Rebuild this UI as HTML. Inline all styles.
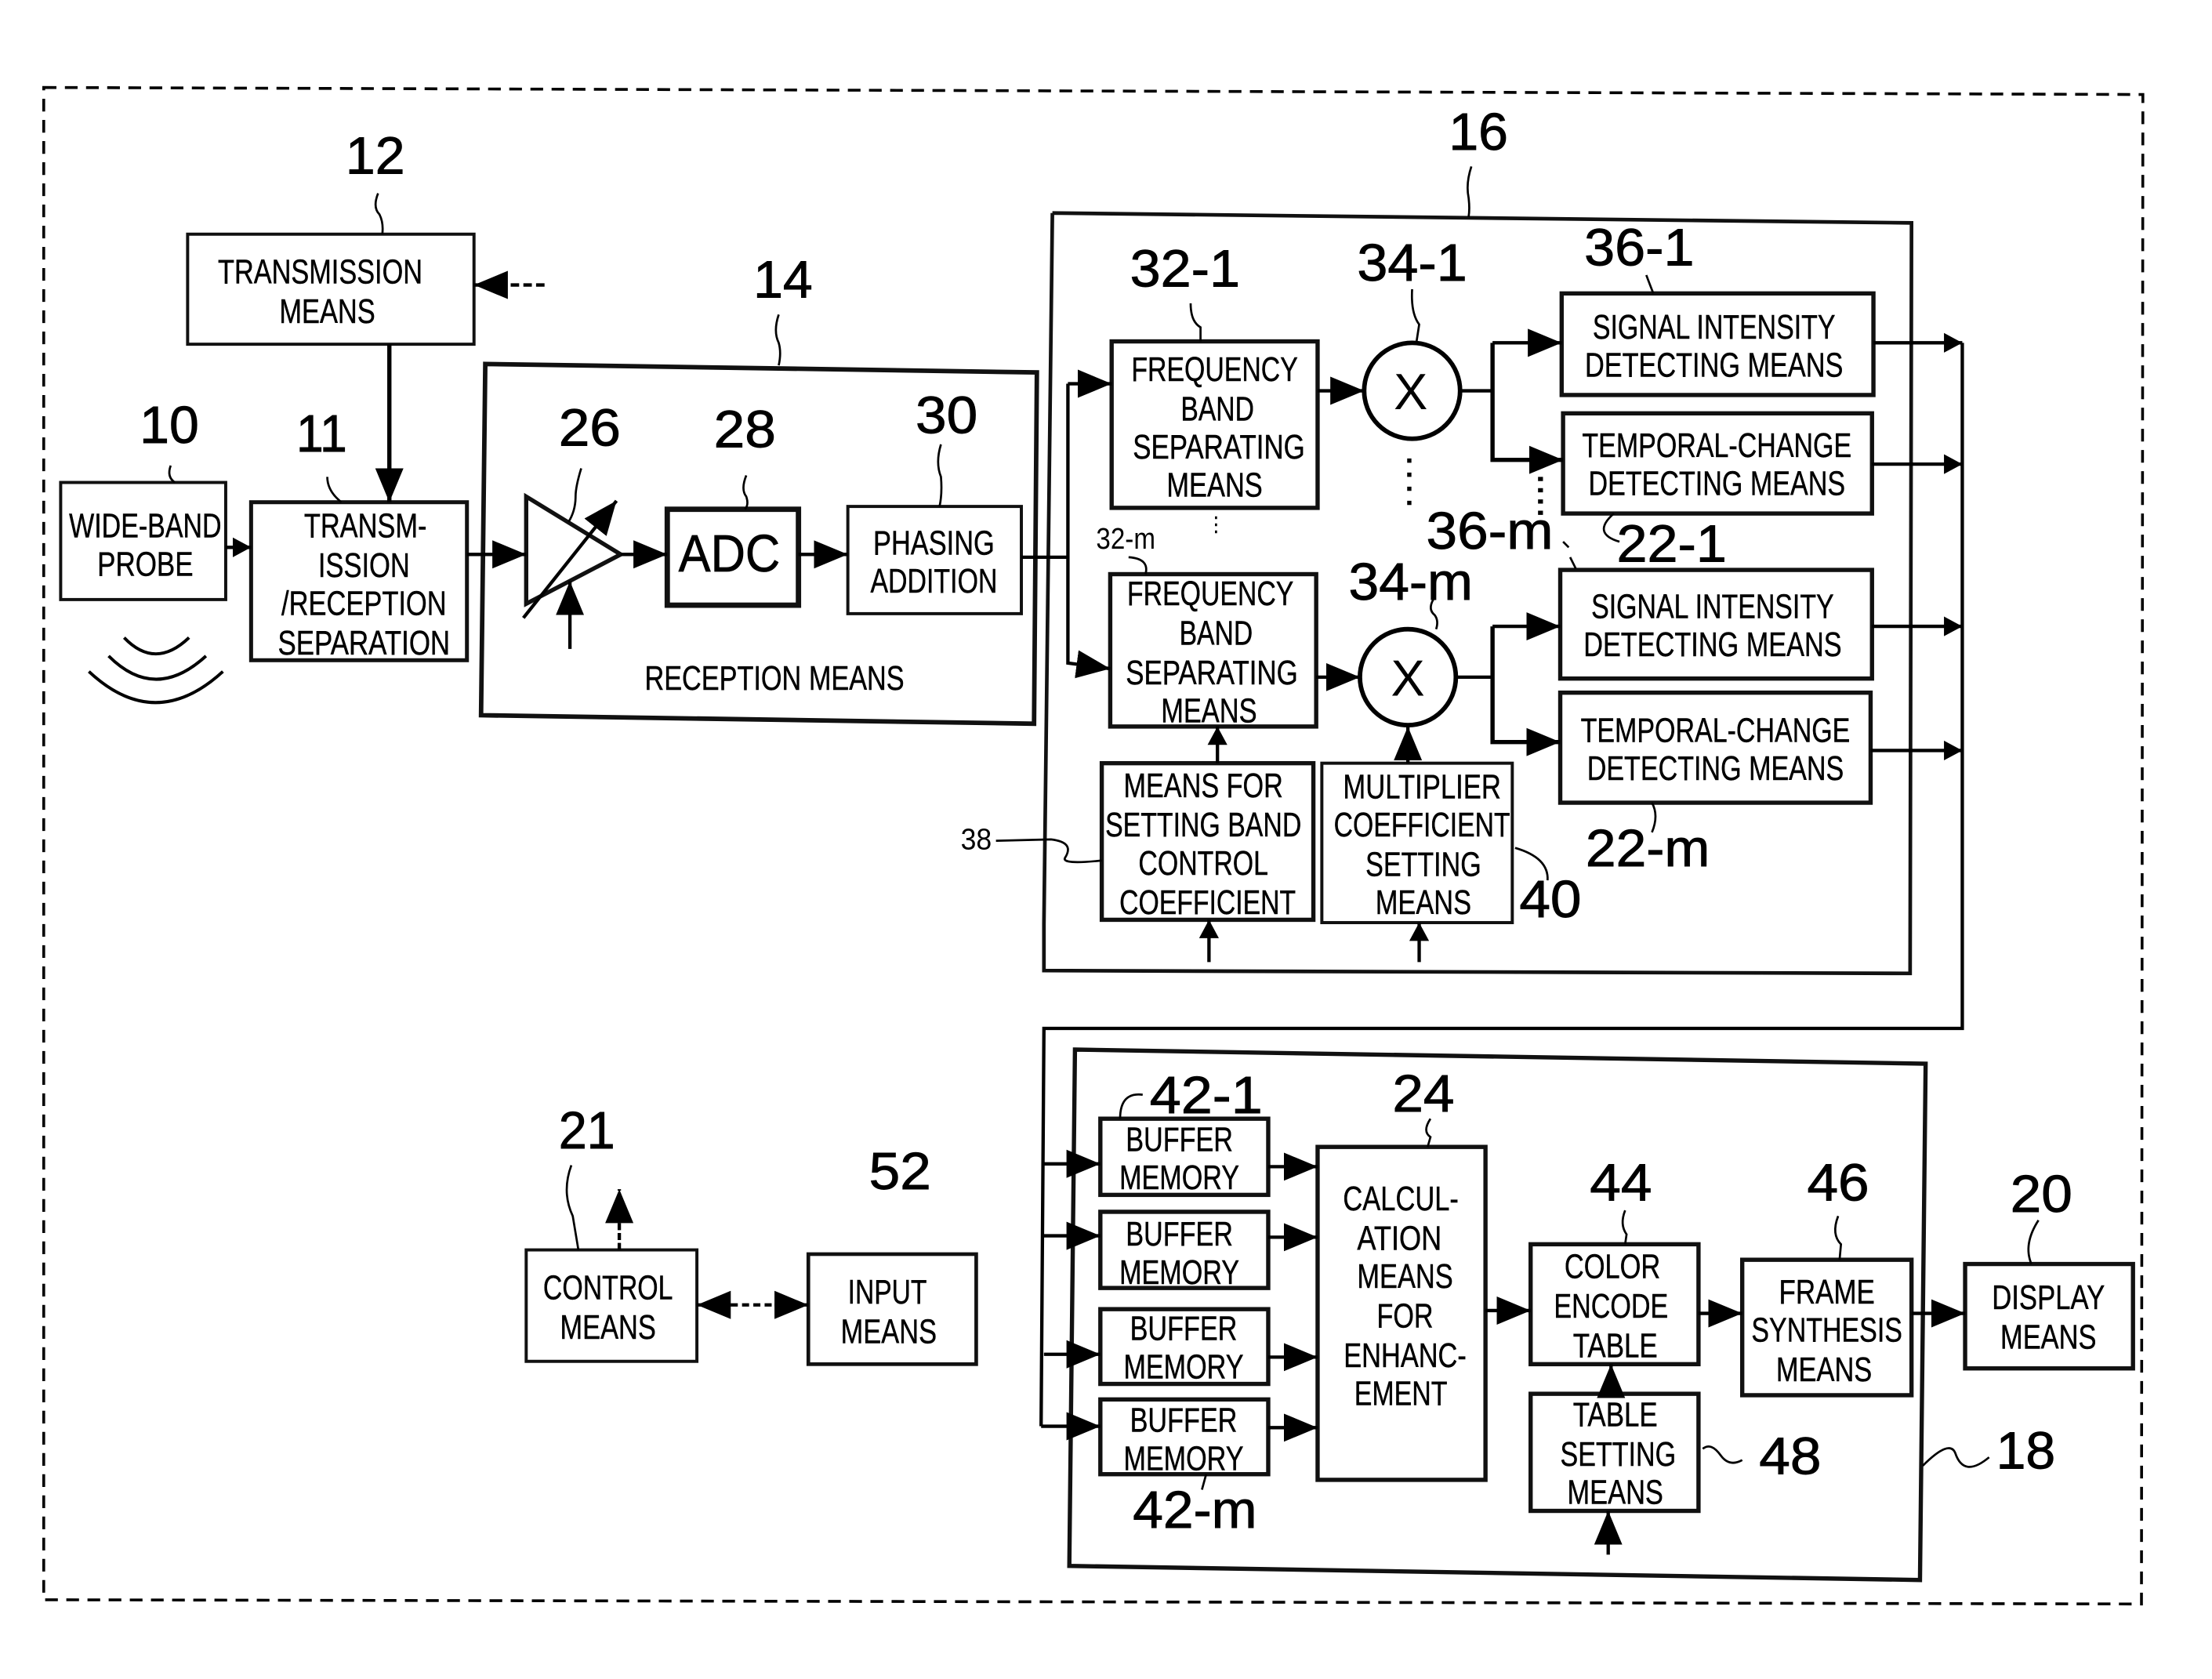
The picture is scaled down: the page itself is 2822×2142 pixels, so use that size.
<!DOCTYPE html>
<html><head><meta charset="utf-8"><style>
html,body{margin:0;padding:0;background:#fff}
svg{display:block}
text{font-family:"Liberation Sans",sans-serif;fill:#000;text-anchor:middle}
.t{font-size:24px;stroke:#000;stroke-width:.25}
.n{font-size:37px;stroke:#000;stroke-width:.5}
.b{fill:none;stroke:#111}
.l{fill:none;stroke:#000;stroke-width:2.4}
.q{fill:none;stroke:#000;stroke-width:1.5}
</style></head><body>
<svg xmlns="http://www.w3.org/2000/svg" width="2822" height="2142" viewBox="0 0 1568 1190.17">
<defs>
<marker id="a" markerUnits="userSpaceOnUse" markerWidth="25" markerHeight="22" refX="24" refY="11" orient="auto"><path d="M0,1 L24,11 L0,21 Z"/></marker>
<marker id="s" markerUnits="userSpaceOnUse" markerWidth="14" markerHeight="16" refX="13" refY="8" orient="auto"><path d="M0,1 L13,8 L0,15 Z"/></marker>
</defs>
<rect width="1568" height="1191" fill="#fff"/>
<path d="M31,62 L1519,67 L1518,1137 L31,1134 Z" fill="none" stroke="#000" stroke-width="2" stroke-dasharray="9 6"/>

<!-- outer containers -->
<path class="b" stroke-width="3.2" d="M344,258 L735,264 L733,513 L341,507 Z"/>
<path class="b" stroke-width="2.6" d="M746,151 L1355,158 L1354,690 L740,688 L740,655 L746,151"/>
<path class="b" stroke-width="3" d="M762,744 L1365,754 L1361,1120 L758,1110 Z"/>

<!-- boxes -->
<g class="b" stroke-width="2.2">
<rect x="133" y="166" width="203" height="78"/>
<rect x="43" y="342" width="117" height="83"/>
<rect x="178" y="356" width="153" height="112" stroke-width="2.8"/>
<rect x="473" y="361" width="93" height="68" stroke-width="3.8"/>
<rect x="601" y="359" width="123" height="76"/>
<rect x="788" y="242" width="146" height="118" stroke-width="3"/>
<rect x="787" y="407" width="146" height="108" stroke-width="3"/>
<rect x="1107" y="208" width="221" height="72" stroke-width="3"/>
<rect x="1108" y="293" width="219" height="71" stroke-width="3"/>
<rect x="1106" y="404" width="221" height="77" stroke-width="3"/>
<rect x="1106" y="491" width="220" height="78" stroke-width="3"/>
<rect x="781" y="541" width="150" height="111" stroke-width="3"/>
<rect x="937" y="541" width="135" height="113"/>
<rect x="780" y="793" width="119" height="54" stroke-width="3"/>
<rect x="780" y="859" width="119" height="54" stroke-width="3"/>
<rect x="780" y="928" width="119" height="53" stroke-width="3"/>
<rect x="780" y="992" width="119" height="53" stroke-width="3"/>
<rect x="934" y="813" width="119" height="236" stroke-width="3"/>
<rect x="1085" y="882" width="119" height="85" stroke-width="3"/>
<rect x="1085" y="988" width="119" height="83" stroke-width="3"/>
<rect x="1235" y="893" width="120" height="96" stroke-width="3"/>
<rect x="1393" y="896" width="119" height="74" stroke-width="3"/>
<rect x="373" y="886" width="121" height="79"/>
<rect x="573" y="889" width="119" height="78" stroke-width="2.6"/>
</g>

<!-- amplifier -->
<path class="b" stroke-width="3" d="M373,352 L440,393 L373,428 Z"/>
<path class="l" stroke-width="3" d="M371,438 L437,355" marker-end="url(#a)"/>
<path class="l" d="M404,460 L404,412" marker-end="url(#a)"/>

<!-- multipliers -->
<circle cx="1001" cy="277" r="34" fill="#fff" stroke="#000" stroke-width="3.2"/>
<circle cx="998" cy="480" r="34" fill="#fff" stroke="#000" stroke-width="3.2"/>

<!-- connectors -->
<g class="l">
<path d="M386,202 L336,202" stroke-dasharray="6 3" marker-end="url(#a)"/>
<path d="M276,244 L276,356" stroke-width="3" marker-end="url(#a)"/>
<path d="M160,388 L178,388" marker-end="url(#s)"/>
<path d="M331,393 L373,393" marker-end="url(#a)"/>
<path d="M440,393 L473,393" marker-end="url(#a)"/>
<path d="M566,393 L601,393" marker-end="url(#a)"/>
<path d="M724,395 L757,395"/>
<path d="M757,272 L757,470 L787,474" marker-end="url(#a)"/>
<path d="M757,272 L788,272" marker-end="url(#a)"/>
<path d="M934,277 L967,277" marker-end="url(#a)"/>
<path d="M933,480 L964,480" marker-end="url(#a)"/>
<path d="M1035,277 L1058,277"/>
<path d="M1058,243 L1107,243" marker-end="url(#a)"/>
<path d="M1058,243 L1058,326 L1108,326" stroke-width="3" marker-end="url(#a)"/>
<path d="M1032,480 L1058,480"/>
<path d="M1058,444 L1106,444" marker-end="url(#a)"/>
<path d="M1058,444 L1058,526 L1106,526" stroke-width="3" marker-end="url(#a)"/>
<path d="M863,541 L863,515" marker-end="url(#s)"/>
<path d="M998,541 L998,515" marker-end="url(#a)"/>
<path d="M857,682 L857,652" marker-end="url(#s)"/>
<path d="M1006,682 L1006,654" marker-end="url(#s)"/>
<path d="M1328,243 L1391,243" marker-end="url(#s)"/>
<path d="M1327,329 L1391,329" marker-end="url(#s)"/>
<path d="M1327,444 L1391,444" marker-end="url(#s)"/>
<path d="M1326,532 L1391,532" marker-end="url(#s)"/>
<path d="M1391,243 L1391,729 L740,729 L738,1011"/>
<path d="M740,825 L780,825" marker-end="url(#a)"/>
<path d="M740,876 L780,876" marker-end="url(#a)"/>
<path d="M740,960 L780,960" marker-end="url(#a)"/>
<path d="M738,1011 L780,1011" marker-end="url(#a)"/>
<path d="M899,827 L934,827" marker-end="url(#a)"/>
<path d="M899,877 L934,877" marker-end="url(#a)"/>
<path d="M899,962 L934,962" marker-end="url(#a)"/>
<path d="M899,1012 L934,1012" marker-end="url(#a)"/>
<path d="M1053,929 L1085,929" marker-end="url(#a)"/>
<path d="M1204,931 L1235,931" marker-end="url(#a)"/>
<path d="M1355,931 L1393,931" marker-end="url(#a)"/>
<path d="M1142,988 L1142,967" marker-end="url(#a)"/>
<path d="M1140,1102 L1140,1071" marker-end="url(#a)"/>
<path d="M439,886 L439,843" stroke-dasharray="5 2" marker-end="url(#a)"/>
<path d="M518,925 L494,925" marker-end="url(#a)"/>
<path d="M518,925 L549,925" stroke-dasharray="5 3"/>
<path d="M549,925 L573,925" marker-end="url(#a)"/>
</g>
<g fill="none" stroke="#000">
<path d="M999,325 L999,361" stroke-width="3" stroke-dasharray="3 7"/>
<path d="M1092,338 L1092,365" stroke-width="3.5" stroke-dasharray="3 5"/>
<path d="M862,366 L862,381" stroke-width="1.5" stroke-dasharray="2 3"/>
</g>

<!-- waves -->
<g fill="none" stroke="#000" stroke-width="2.2">
<path d="M88,452 Q110,475 134,452"/>
<path d="M77,465 Q110,498 146,465"/>
<path d="M63,476 Q110,520 158,476"/>
</g>

<!-- squiggles -->
<g class="q">
<path d="M268,137 Q264,147 269,152 Q272,158 271,166"/>
<path d="M552,223 Q548,235 552,243 Q554,250 552,259"/>
<path d="M1043,118 Q1039,130 1041,140 Q1042,148 1041,154"/>
<path d="M121,330 Q118,338 124,342"/>
<path d="M232,338 Q232,348 242,356"/>
<path d="M412,332 Q408,345 408,352 Q408,362 403,370"/>
<path d="M529,337 Q525,347 529,352 Q531,358 528,361"/>
<path d="M667,315 Q663,328 667,338 Q668,350 666,359"/>
<path d="M844,215 Q844,228 851,232 L851,242"/>
<path d="M1001,205 Q1000,222 1006,230 L1004,243"/>
<path d="M1167,195 Q1170,203 1172,208"/>
<path d="M1117,403 L1113,395 M1108,384 L1112,388"/>
<path d="M1144,364 Q1128,378 1148,384"/>
<path d="M800,395 Q815,396 812,407"/>
<path d="M1016,425 Q1012,432 1017,436 Q1020,440 1018,446"/>
<path d="M1171,569 Q1176,578 1171,590"/>
<path d="M1074,601 Q1098,608 1097,624"/>
<path d="M706,596 L745,595 Q762,597 755,608 Q752,613 781,610"/>
<path d="M794,793 Q794,774 810,776"/>
<path d="M855,1045 L852,1056"/>
<path d="M1014,793 Q1008,802 1014,806 L1012,813"/>
<path d="M1152,858 Q1148,868 1153,875 L1152,882"/>
<path d="M1303,862 Q1298,875 1305,882 L1304,893"/>
<path d="M1445,865 Q1434,882 1440,896"/>
<path d="M1207,1027 Q1213,1022 1220,1032 Q1226,1040 1235,1035"/>
<path d="M1363,1039 Q1382,1020 1386,1030 Q1392,1048 1410,1033"/>
<path d="M405,826 Q398,845 406,862 L410,886"/>
</g>

<!-- box labels -->
<g class="t">
<text x="227" y="201" textLength="145" lengthAdjust="spacingAndGlyphs">TRANSMISSION</text>
<text x="232" y="229" textLength="68" lengthAdjust="spacingAndGlyphs">MEANS</text>
<text x="103" y="381" textLength="108" lengthAdjust="spacingAndGlyphs">WIDE-BAND</text>
<text x="103" y="408" textLength="68" lengthAdjust="spacingAndGlyphs">PROBE</text>
<text x="259" y="381" textLength="87" lengthAdjust="spacingAndGlyphs">TRANSM-</text>
<text x="258" y="409" textLength="65" lengthAdjust="spacingAndGlyphs">ISSION</text>
<text x="258" y="436" textLength="117" lengthAdjust="spacingAndGlyphs">/RECEPTION</text>
<text x="258" y="464" textLength="122" lengthAdjust="spacingAndGlyphs">SEPARATION</text>
<text x="662" y="393" textLength="86" lengthAdjust="spacingAndGlyphs">PHASING</text>
<text x="662" y="420" textLength="90" lengthAdjust="spacingAndGlyphs">ADDITION</text>
<text x="549" y="489" textLength="184" lengthAdjust="spacingAndGlyphs">RECEPTION MEANS</text>
<text x="861" y="270" textLength="118" lengthAdjust="spacingAndGlyphs">FREQUENCY</text>
<text x="863" y="298" textLength="52" lengthAdjust="spacingAndGlyphs">BAND</text>
<text x="864" y="325" textLength="122" lengthAdjust="spacingAndGlyphs">SEPARATING</text>
<text x="861" y="352" textLength="68" lengthAdjust="spacingAndGlyphs">MEANS</text>
<text x="858" y="429" textLength="118" lengthAdjust="spacingAndGlyphs">FREQUENCY</text>
<text x="862" y="457" textLength="52" lengthAdjust="spacingAndGlyphs">BAND</text>
<text x="859" y="485" textLength="122" lengthAdjust="spacingAndGlyphs">SEPARATING</text>
<text x="857" y="512" textLength="68" lengthAdjust="spacingAndGlyphs">MEANS</text>
<text x="1215" y="240" textLength="172" lengthAdjust="spacingAndGlyphs">SIGNAL INTENSITY</text>
<text x="1215" y="267" textLength="183" lengthAdjust="spacingAndGlyphs">DETECTING MEANS</text>
<text x="1217" y="324" textLength="191" lengthAdjust="spacingAndGlyphs">TEMPORAL-CHANGE</text>
<text x="1217" y="351" textLength="182" lengthAdjust="spacingAndGlyphs">DETECTING MEANS</text>
<text x="1214" y="438" textLength="172" lengthAdjust="spacingAndGlyphs">SIGNAL INTENSITY</text>
<text x="1214" y="465" textLength="183" lengthAdjust="spacingAndGlyphs">DETECTING MEANS</text>
<text x="1216" y="526" textLength="191" lengthAdjust="spacingAndGlyphs">TEMPORAL-CHANGE</text>
<text x="1216" y="553" textLength="182" lengthAdjust="spacingAndGlyphs">DETECTING MEANS</text>
<text x="853" y="565" textLength="113" lengthAdjust="spacingAndGlyphs">MEANS FOR</text>
<text x="853" y="593" textLength="139" lengthAdjust="spacingAndGlyphs">SETTING BAND</text>
<text x="853" y="620" textLength="92" lengthAdjust="spacingAndGlyphs">CONTROL</text>
<text x="856" y="648" textLength="125" lengthAdjust="spacingAndGlyphs">COEFFICIENT</text>
<text x="1008" y="566" textLength="112" lengthAdjust="spacingAndGlyphs">MULTIPLIER</text>
<text x="1008" y="593" textLength="125" lengthAdjust="spacingAndGlyphs">COEFFICIENT</text>
<text x="1009" y="621" textLength="82" lengthAdjust="spacingAndGlyphs">SETTING</text>
<text x="1009" y="648" textLength="68" lengthAdjust="spacingAndGlyphs">MEANS</text>
<text x="836" y="816" textLength="76" lengthAdjust="spacingAndGlyphs">BUFFER</text>
<text x="836" y="843" textLength="85" lengthAdjust="spacingAndGlyphs">MEMORY</text>
<text x="836" y="883" textLength="76" lengthAdjust="spacingAndGlyphs">BUFFER</text>
<text x="836" y="910" textLength="85" lengthAdjust="spacingAndGlyphs">MEMORY</text>
<text x="839" y="950" textLength="76" lengthAdjust="spacingAndGlyphs">BUFFER</text>
<text x="839" y="977" textLength="85" lengthAdjust="spacingAndGlyphs">MEMORY</text>
<text x="839" y="1015" textLength="76" lengthAdjust="spacingAndGlyphs">BUFFER</text>
<text x="839" y="1042" textLength="85" lengthAdjust="spacingAndGlyphs">MEMORY</text>
<text x="993" y="858" textLength="82" lengthAdjust="spacingAndGlyphs">CALCUL-</text>
<text x="992" y="886" textLength="60" lengthAdjust="spacingAndGlyphs">ATION</text>
<text x="996" y="913" textLength="68" lengthAdjust="spacingAndGlyphs">MEANS</text>
<text x="996" y="941" textLength="40" lengthAdjust="spacingAndGlyphs">FOR</text>
<text x="996" y="969" textLength="87" lengthAdjust="spacingAndGlyphs">ENHANC-</text>
<text x="993" y="996" textLength="66" lengthAdjust="spacingAndGlyphs">EMENT</text>
<text x="1143" y="906" textLength="68" lengthAdjust="spacingAndGlyphs">COLOR</text>
<text x="1142" y="934" textLength="81" lengthAdjust="spacingAndGlyphs">ENCODE</text>
<text x="1145" y="962" textLength="60" lengthAdjust="spacingAndGlyphs">TABLE</text>
<text x="1145" y="1011" textLength="60" lengthAdjust="spacingAndGlyphs">TABLE</text>
<text x="1147" y="1039" textLength="82" lengthAdjust="spacingAndGlyphs">SETTING</text>
<text x="1145" y="1066" textLength="68" lengthAdjust="spacingAndGlyphs">MEANS</text>
<text x="1295" y="924" textLength="68" lengthAdjust="spacingAndGlyphs">FRAME</text>
<text x="1295" y="951" textLength="107" lengthAdjust="spacingAndGlyphs">SYNTHESIS</text>
<text x="1293" y="979" textLength="68" lengthAdjust="spacingAndGlyphs">MEANS</text>
<text x="1452" y="928" textLength="80" lengthAdjust="spacingAndGlyphs">DISPLAY</text>
<text x="1452" y="956" textLength="68" lengthAdjust="spacingAndGlyphs">MEANS</text>
<text x="431" y="921" textLength="92" lengthAdjust="spacingAndGlyphs">CONTROL</text>
<text x="431" y="949" textLength="68" lengthAdjust="spacingAndGlyphs">MEANS</text>
<text x="629" y="924" textLength="56" lengthAdjust="spacingAndGlyphs">INPUT</text>
<text x="630" y="952" textLength="68" lengthAdjust="spacingAndGlyphs">MEANS</text>
</g>
<text x="517" y="405" font-size="37" textLength="72" lengthAdjust="spacingAndGlyphs" stroke="#000" stroke-width=".4">ADC</text>
<text x="1000" y="290" font-size="36" textLength="24" lengthAdjust="spacingAndGlyphs">X</text>
<text x="998" y="493" font-size="36" textLength="24" lengthAdjust="spacingAndGlyphs">X</text>

<!-- reference numerals -->
<g class="n">
<text x="266" y="123" textLength="42" lengthAdjust="spacingAndGlyphs">12</text>
<text x="555" y="211" textLength="42" lengthAdjust="spacingAndGlyphs">14</text>
<text x="1048" y="106" textLength="42" lengthAdjust="spacingAndGlyphs">16</text>
<text x="120" y="314" textLength="42" lengthAdjust="spacingAndGlyphs">10</text>
<text x="228" y="320" textLength="36" lengthAdjust="spacingAndGlyphs">11</text>
<text x="418" y="316" textLength="44" lengthAdjust="spacingAndGlyphs">26</text>
<text x="528" y="317" textLength="44" lengthAdjust="spacingAndGlyphs">28</text>
<text x="671" y="307" textLength="44" lengthAdjust="spacingAndGlyphs">30</text>
<text x="840" y="203" textLength="78" lengthAdjust="spacingAndGlyphs">32-1</text>
<text x="1001" y="199" textLength="78" lengthAdjust="spacingAndGlyphs">34-1</text>
<text x="1162" y="188" textLength="78" lengthAdjust="spacingAndGlyphs">36-1</text>
<text x="1056" y="389" textLength="90" lengthAdjust="spacingAndGlyphs">36-m</text>
<text x="1185" y="398" textLength="78" lengthAdjust="spacingAndGlyphs">22-1</text>
<text x="1000" y="425" textLength="88" lengthAdjust="spacingAndGlyphs">34-m</text>
<text x="1168" y="614" textLength="88" lengthAdjust="spacingAndGlyphs">22-m</text>
<text x="1099" y="650" textLength="44" lengthAdjust="spacingAndGlyphs">40</text>
<text x="855" y="789" textLength="80" lengthAdjust="spacingAndGlyphs">42-1</text>
<text x="1009" y="788" textLength="44" lengthAdjust="spacingAndGlyphs">24</text>
<text x="1149" y="851" textLength="44" lengthAdjust="spacingAndGlyphs">44</text>
<text x="1303" y="851" textLength="44" lengthAdjust="spacingAndGlyphs">46</text>
<text x="1447" y="859" textLength="44" lengthAdjust="spacingAndGlyphs">20</text>
<text x="1269" y="1045" textLength="44" lengthAdjust="spacingAndGlyphs">48</text>
<text x="1436" y="1041" textLength="42" lengthAdjust="spacingAndGlyphs">18</text>
<text x="847" y="1083" textLength="88" lengthAdjust="spacingAndGlyphs">42-m</text>
<text x="416" y="814" textLength="40" lengthAdjust="spacingAndGlyphs">21</text>
<text x="638" y="843" textLength="44" lengthAdjust="spacingAndGlyphs">52</text>
</g>
<text x="798" y="389" font-size="21" textLength="42" lengthAdjust="spacingAndGlyphs">32-m</text>
<text x="692" y="602" font-size="21" textLength="22" lengthAdjust="spacingAndGlyphs">38</text>
</svg>
</body></html>
